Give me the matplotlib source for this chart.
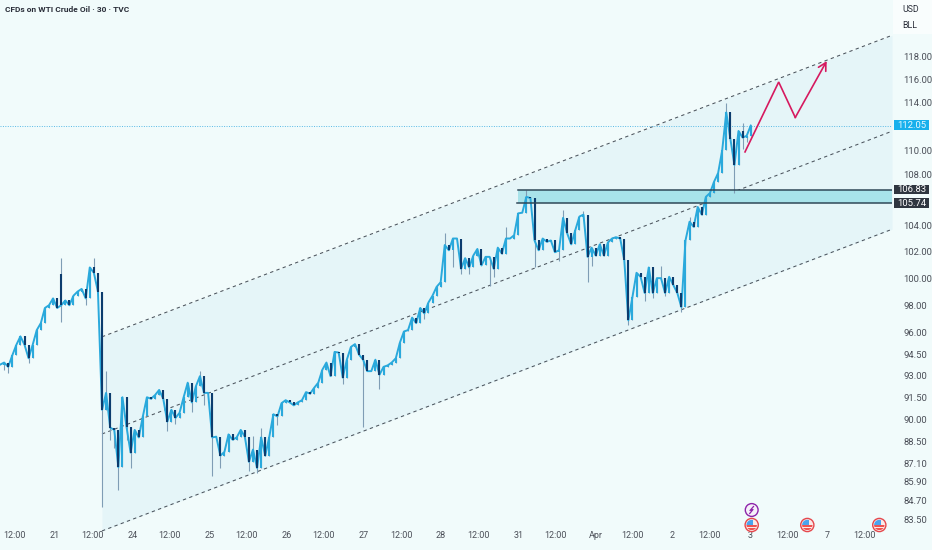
import numpy as np
import matplotlib
matplotlib.use("Agg")
import matplotlib.pyplot as plt
from matplotlib.patches import Rectangle, Circle
from matplotlib.ticker import FixedLocator, FixedFormatter, NullLocator

# ---------- data (days since session "21"; prices in USD) ----------
first_bar = -0.712
bar_step = 0.05285
closes = [
 93.75,93.9,93.6,94.4,95.15,95.75,95.15,94.2,95.15,96.2,96.7,97.8,98.0,98.5,97.8,98.0,98.35,98.0,98.7,99.0,
 99.2,98.5,100.8,100.4,99.0,90.65,91.8,89.45,89.3,86.85,91.5,89.5,87.8,89.3,88.8,90.2,91.5,91.4,91.65,92.0,
 91.4,89.85,90.65,90.1,90.45,91.5,92.5,91.15,92.25,92.95,91.8,91.8,88.8,88.85,87.6,87.85,89.0,88.65,88.8,89.3,
 88.85,87.2,88.0,86.8,88.8,87.6,88.85,90.35,90.2,91.1,91.3,91.15,90.95,91.15,91.3,91.85,91.75,92.15,92.5,93.4,
 93.9,92.95,94.65,94.6,92.85,94.1,95.0,95.2,94.45,94.1,93.3,93.3,94.1,93.05,93.6,93.7,93.9,94.2,95.3,96.1,
 96.2,97.1,96.7,97.8,97.4,98.2,98.7,99.35,99.7,102.5,102.1,103.0,103.0,100.7,101.5,100.8,101.7,102.2,100.95,101.6,
 101.6,100.7,102.3,101.85,103.0,103.0,103.25,104.95,105.0,106.25,106.15,102.85,102.1,103.0,102.75,102.85,101.95,102.1,104.6,103.4,
 102.55,103.65,104.7,104.85,101.6,102.3,101.7,102.55,101.7,102.7,103.0,103.1,103.0,101.35,96.9,98.6,100.4,100.1,98.9,100.8,
 98.9,100.0,100.0,98.9,100.1,99.5,98.9,97.85,102.85,104.3,103.9,105.45,104.85,106.25,106.55,107.45,108.15,110.0,113.15,110.95,
 108.8,111.6,111.05,111.2,112.05,
]
open_bars = [15]
open_values = [100.3]
high_bars = [15,23,26,49,62,64,109,124,129,138,143,162,169,178,182]
high_values = [101.5,101.5,93.3,93.3,88.9,89.4,103.4,103.9,106.8,105.2,105.1,100.9,104.7,113.95,112.3]
low_bars = [1,2,7,15,21,25,27,28,29,31,32,41,43,47,50,52,54,61,63,68,84,89,93,104,111,113,115,120,121,131,137,144,145,154,158,160,163,167,180,182,183]
low_values = [93.4,93.2,93.9,96.8,98.0,84.3,88.6,88.1,85.4,88.6,86.8,89.2,89.7,90.5,91.0,86.3,86.8,86.6,86.5,89.6,92.4,89.5,92.1,97.0,100.8,100.3,100.3,99.4,100.1,100.8,101.3,99.7,100.9,96.55,98.3,98.5,98.7,97.5,106.55,110.1,110.7]

channel_x = [0.6088, 10.842]
channel_top = [95.72, 119.85]
channel_mid = [89.03, 111.58]
channel_bot = [82.82, 103.71]
zone_top_price = 106.83
zone_bot_price = 105.74
zone_top_start = 6.0013
zone_bot_start = 5.98
last_price = 112.05
path_x = [8.938, 9.374, 9.589, 9.996]
path_y = [109.87, 115.75, 112.73, 117.57]

x_ticks = [-0.518,0,0.483,1,1.483,2,2.483,3,3.483,4,4.483,5,5.483,6,6.483,7,7.483,8,8.483,9,9.483,10,10.483]
x_labels = ["12:00","21","12:00","24","12:00","25","12:00","26","12:00","27","12:00","28","12:00","31","12:00","Apr","12:00","2","12:00","3","12:00","7","12:00"]
y_ticks = [118,116,114,110,108,104,102,100,98,96,94.5,93,91.5,90,88.5,87.1,85.9,84.7,83.5]

# ---------- styles ----------
BG = "#f1fbfb"
BAND = "#e5f5f8"
ZONE = "#a8e3ea"
UP = "#2aa9dc"
DOWN = "#0c3c6e"
WICK = "#7f9db5"
TXT = "#4b4f58"
FONT = ["Roboto", "DejaVu Sans"]
plt.rcParams["font.family"] = FONT

fig = plt.figure(figsize=(9.32, 5.5), dpi=100, facecolor=BG)
ax = fig.add_axes([0, 0, 892/932, 1], facecolor=BG)
ax.set_yscale("log")
ax.set_xlim(-55/77.2, (892-55)/77.2)
ax.set_ylim(81.65, 123.05)
for s in ax.spines.values():
    s.set_visible(False)

# channel
ax.fill_between(channel_x, channel_bot, channel_top, color=BAND, lw=0, zorder=1)
for ys in (channel_top, channel_mid, channel_bot):
    ax.plot(channel_x, ys, color="#4a535c", lw=0.75, dashes=(3.2, 3.2), zorder=2)

# zone
ax.fill_between([zone_top_start, channel_x[1]], zone_bot_price, zone_top_price, color=ZONE, lw=0, zorder=2)
ax.plot([zone_top_start, channel_x[1]], [zone_top_price]*2, color="#2f4858", lw=1.1, zorder=5)
ax.plot([zone_bot_start, channel_x[1]], [zone_bot_price]*2, color="#2f4858", lw=1.1, zorder=5)

# last price line
ax.axhline(last_price, color="#58b9e6", lw=0.7, ls=(0, (1, 1.5)), zorder=2)

# candles
closes_arr = np.array(closes)
xs = first_bar + bar_step*np.arange(len(closes_arr))
opens = np.r_[closes_arr[0], closes_arr[:-1]]
opens[open_bars] = open_values
highs = np.maximum(opens, closes_arr)
lows = np.minimum(opens, closes_arr)
highs[high_bars] = high_values
lows[low_bars] = low_values
ax.vlines(xs, lows, highs, color=WICK, lw=0.8, zorder=3)
ax.plot(xs, closes_arr, color=UP, lw=1.4, zorder=3.5)
cols = [UP if c >= o else DOWN for o, c in zip(opens, closes_arr)]
ax.vlines(xs, opens, closes_arr, color=cols, lw=1.5, zorder=4)

# projection
ax.plot(path_x[:3], path_y[:3], color="#d6195f", lw=1.2, zorder=6, solid_joinstyle="miter")
ax.annotate("", xy=(path_x[3], path_y[3]), xytext=(path_x[2], path_y[2]),
            arrowprops=dict(arrowstyle="->,head_length=0.55,head_width=0.3", color="#d6195f",
                            lw=1.2, shrinkA=0, shrinkB=0), zorder=6)

# axes
ax.yaxis.tick_right()
ax.yaxis.set_major_locator(FixedLocator(y_ticks))
ax.yaxis.set_major_formatter(FixedFormatter([f"{v:.2f}" for v in y_ticks]))
ax.yaxis.set_minor_locator(NullLocator())
ax.xaxis.set_major_locator(FixedLocator(x_ticks))
ax.xaxis.set_major_formatter(FixedFormatter(x_labels))
ax.tick_params(axis="y", length=0, pad=8, labelsize=6.8, labelcolor=TXT)
ax.tick_params(axis="x", length=0, pad=-14, labelsize=6.5, labelcolor=TXT)

# overlay in pixels
ov = fig.add_axes([0, 0, 1, 1], facecolor="none")
ov.set_xlim(0, 932); ov.set_ylim(550, 0); ov.axis("off")
ov.text(5, 10, "CFDs on WTI Crude Oil · 30 · TVC", fontsize=6.0, fontweight="bold", color="#2a2e39", va="center", ha="left")
ov.add_patch(Rectangle((893, 0), 39, 34, color="#f9fdfd", lw=0))
ov.text(902, 10, "USD", fontsize=6.3, color="#2a2e39", va="center")
ov.text(902, 26, "BLL", fontsize=6.3, color="#2a2e39", va="center")

def pill(y, h, label, col):
    ov.add_patch(Rectangle((894, y-h/2), 35, h, color=col, lw=0, zorder=5))
    ov.text(912, y, label, fontsize=6.8, color="white" if col != "#17b0ec" else "#e8f8ff", ha="center", va="center", zorder=6)
pill(125, 9.5, "112.05", "#17b0ec")
pill(189.5, 9.5, "106.83", "#2f3640")
pill(203, 9.5, "105.74", "#2f3640")

def flag(cx, cy):
    c = Circle((cx, cy), 6.6, fc="#fbe9e7", ec="#e5484d", lw=1.0, zorder=7)
    ov.add_patch(c)
    clip = Circle((cx, cy), 5.2, transform=ov.transData)
    for yy in (cy+0.3, cy+3.4):
        r = Rectangle((cx-6, yy), 12, 1.3, color="#ef5350", lw=0, zorder=8); ov.add_patch(r); r.set_clip_path(clip)
    r = Rectangle((cx-6, cy-6), 7.5, 6, color="#4aa3ee", lw=0, zorder=9); ov.add_patch(r); r.set_clip_path(clip)
for cx in (751.7, 807.3, 879.3):
    flag(cx, 525)
ov.add_patch(Circle((751.7, 510), 6.4, fc="#f6f0fa", ec="#8e24aa", lw=1.0, zorder=7))
ov.plot([753.5, 750, 753, 749.7], [506.5, 510.5, 509.5, 513.5], color="#8e24aa", lw=0.9, zorder=8)

fig.savefig("out.png", dpi=100, facecolor=BG)
